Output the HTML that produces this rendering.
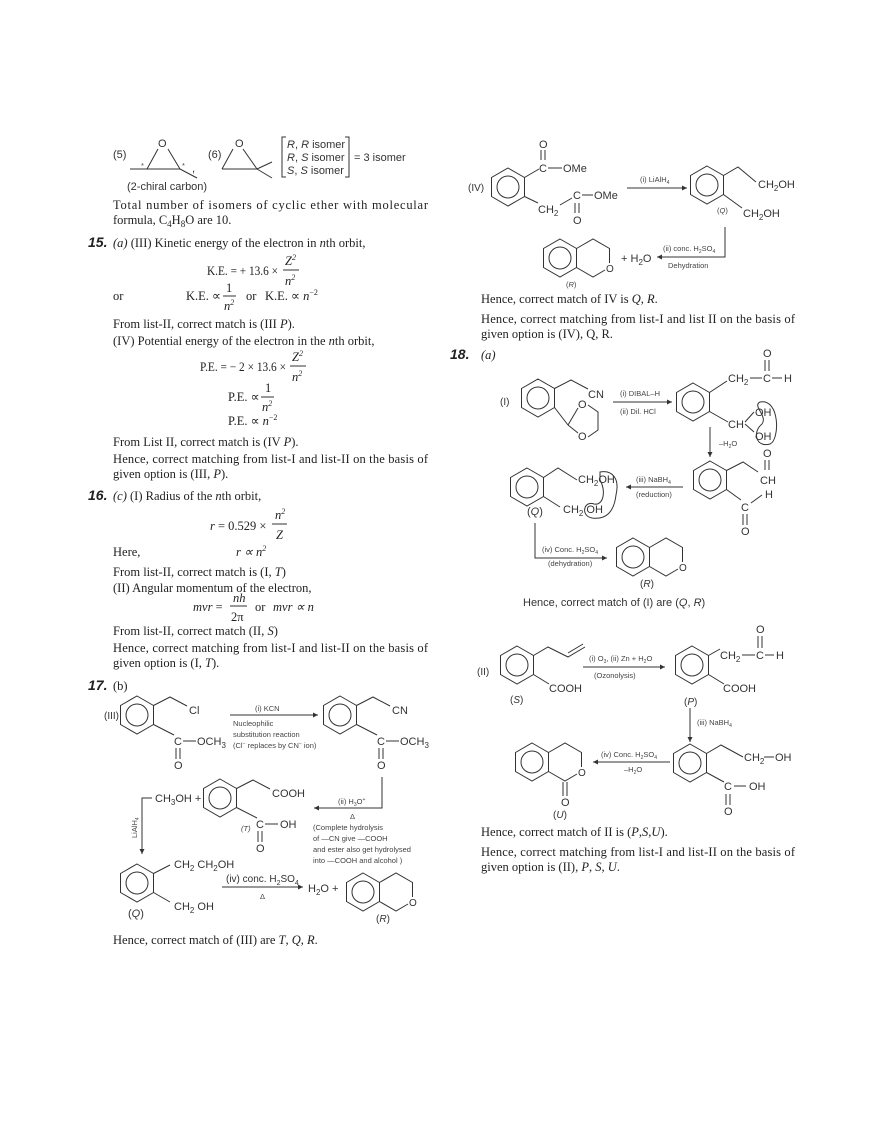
<!DOCTYPE html>
<html><head><meta charset="utf-8"><style>
html,body{margin:0;padding:0;background:#fff}
svg{display:block}
.t{font-family:"Liberation Serif",serif;font-size:12.5px;fill:#222}
.s{font-family:"Liberation Sans",sans-serif;font-size:11px;fill:#333}
.m{font-family:"Liberation Sans",sans-serif;font-size:7.5px;fill:#444}
.b{font-family:"Liberation Sans",sans-serif;font-size:14px;font-weight:bold;font-style:italic;fill:#222}
.ln{stroke:#333;stroke-width:1;fill:none}
</style></head><body>
<svg width="880" height="1124" viewBox="0 0 880 1124" xmlns="http://www.w3.org/2000/svg">
<defs>
<marker id="ar" markerWidth="6" markerHeight="6" refX="5" refY="3" orient="auto"><path d="M0,0.5 L5,3 L0,5.5 Z" fill="#333"/></marker>
<g id="bz"><polygon points="0,-19 16.5,-9.5 16.5,9.5 0,19 -16.5,9.5 -16.5,-9.5" class="ln"/><circle r="11" class="ln"/></g>
<g id="iso"><use href="#bz"/><polyline points="16.5,-9.5 33,-19 49.5,-9.5 49.5,5" class="ln"/><polyline points="45,12 33,19 16.5,9.5" class="ln"/><text x="46" y="14" class="s" style="font-size:10px">O</text></g>
</defs>

<!-- top left epoxides -->
<text x="113" y="158" class="s">(5)</text>
<text x="158" y="147" class="s">O</text>
<polyline points="147,169 158,149" class="ln"/><polyline points="168,149 180,169" class="ln"/>
<line x1="130" y1="169" x2="180" y2="169" class="ln"/><line x1="180" y1="169" x2="197" y2="178" class="ln"/>
<text x="141" y="168" class="m">*</text><text x="182" y="168" class="m">*</text>
<text x="192" y="172" class="s">,</text>
<text x="208" y="158" class="s">(6)</text>
<text x="235" y="147" class="s">O</text>
<polyline points="222,169 233,149" class="ln"/><polyline points="243,149 257,169" class="ln"/>
<line x1="222" y1="169" x2="257" y2="169" class="ln"/><line x1="257" y1="169" x2="272" y2="162" class="ln"/><line x1="257" y1="169" x2="272" y2="178" class="ln"/>
<polyline points="286,137 282,137 282,177 286,177" class="ln"/>
<polyline points="345,137 349,137 349,177 345,177" class="ln"/>
<text x="287" y="148" class="s"><tspan font-style="italic">R</tspan>, <tspan font-style="italic">R</tspan>  isomer</text>
<text x="287" y="161" class="s"><tspan font-style="italic">R</tspan>, <tspan font-style="italic">S</tspan>  isomer</text>
<text x="287" y="174" class="s"><tspan font-style="italic">S</tspan>, <tspan font-style="italic">S</tspan>  isomer</text>
<text x="354" y="161" class="s">= 3 isomer</text>
<text x="127" y="190" class="s">(2-chiral carbon)</text>
<text x="113" y="209" class="t" textLength="315">Total number of isomers of cyclic ether with molecular</text>
<text x="113" y="224" class="t">formula, C<tspan font-size="9" dy="3">4</tspan><tspan dy="-3">H</tspan><tspan font-size="9" dy="3">8</tspan><tspan dy="-3">O are 10.</tspan></text>

<!-- 15 -->
<text x="88" y="247" class="b">15.</text>
<text x="113" y="247" class="t"><tspan font-style="italic">(a)</tspan> (III) Kinetic energy of the electron in <tspan font-style="italic">n</tspan>th orbit,</text>
<text x="207" y="275" class="t" textLength="71" lengthAdjust="spacingAndGlyphs">K.E. = + 13.6 ×</text>
<text x="285" y="265" class="t" font-style="italic">Z<tspan font-size="8" dy="-5">2</tspan></text><line x1="283" y1="270" x2="299" y2="270" class="ln"/>
<text x="285" y="285" class="t" font-style="italic">n<tspan font-size="8" dy="-5">2</tspan></text>
<text x="113" y="300" class="t">or</text>
<text x="186" y="300" class="t">K.E. ∝</text>
<text x="226" y="292" class="t">1</text><line x1="223" y1="296" x2="236" y2="296" class="ln"/>
<text x="224" y="310" class="t" font-style="italic">n<tspan font-size="8" dy="-5">2</tspan></text>
<text x="246" y="300" class="t">or</text>
<text x="265" y="300" class="t">K.E. ∝ <tspan font-style="italic">n</tspan><tspan font-size="8" dy="-5">−2</tspan></text>
<text x="113" y="328" class="t">From list-II, correct match is (III <tspan font-style="italic">P</tspan>).</text>
<text x="113" y="345" class="t">(IV) Potential energy of the electron in the <tspan font-style="italic">n</tspan>th orbit,</text>
<text x="200" y="371" class="t" textLength="86" lengthAdjust="spacingAndGlyphs">P.E. = − 2 × 13.6 ×</text>
<text x="292" y="361" class="t" font-style="italic">Z<tspan font-size="8" dy="-5">2</tspan></text><line x1="290" y1="366" x2="306" y2="366" class="ln"/>
<text x="292" y="381" class="t" font-style="italic">n<tspan font-size="8" dy="-5">2</tspan></text>
<text x="228" y="401" class="t">P.E. ∝</text>
<text x="265" y="392" class="t">1</text><line x1="261" y1="397" x2="274" y2="397" class="ln"/>
<text x="262" y="411" class="t" font-style="italic">n<tspan font-size="8" dy="-5">2</tspan></text>
<text x="228" y="425" class="t">P.E. ∝ <tspan font-style="italic">n</tspan><tspan font-size="8" dy="-5">−2</tspan></text>
<text x="113" y="446" class="t">From List II, correct match is (IV <tspan font-style="italic">P</tspan>).</text>
<text x="113" y="463" class="t" textLength="315">Hence, correct matching from list-I and list-II on the basis of</text>
<text x="113" y="478" class="t">given option is (III, <tspan font-style="italic">P</tspan>).</text>

<!-- 16 -->
<text x="88" y="500" class="b">16.</text>
<text x="113" y="500" class="t"><tspan font-style="italic">(c)</tspan> (I) Radius of the <tspan font-style="italic">n</tspan>th orbit,</text>
<text x="210" y="530" class="t"><tspan font-style="italic">r</tspan> = 0.529 ×</text>
<text x="275" y="519" class="t" font-style="italic">n<tspan font-size="8" dy="-5">2</tspan></text><line x1="272" y1="524" x2="287" y2="524" class="ln"/>
<text x="276" y="539" class="t" font-style="italic">Z</text>
<text x="113" y="556" class="t">Here,</text>
<text x="236" y="556" class="t" font-style="italic">r ∝ n<tspan font-size="8" dy="-5">2</tspan></text>
<text x="113" y="576" class="t">From list-II, correct match is (I, <tspan font-style="italic">T</tspan>)</text>
<text x="113" y="592" class="t">(II) Angular momentum of the electron,</text>
<text x="193" y="611" class="t"><tspan font-style="italic">mvr</tspan> =</text>
<text x="233" y="602" class="t" font-style="italic">nh</text><line x1="230" y1="606" x2="247" y2="606" class="ln"/>
<text x="231" y="621" class="t">2π</text>
<text x="255" y="611" class="t">or</text>
<text x="273" y="611" class="t" font-style="italic">mvr ∝ n</text>
<text x="113" y="635" class="t">From list-II, correct match (II, <tspan font-style="italic">S</tspan>)</text>
<text x="113" y="652" class="t" textLength="315">Hence, correct matching from list-I and list-II on the basis of</text>
<text x="113" y="667" class="t">given option is (I, <tspan font-style="italic">T</tspan>).</text>

<!-- 17 -->
<text x="88" y="690" class="b">17.</text>
<text x="113" y="690" class="t">(b)</text>
<text x="104" y="719" class="s" style="font-size:10px">(III)</text>
<use href="#bz" x="137" y="715"/>
<polyline points="153.5,705.5 170,697 187,706" class="ln"/><text x="189" y="714" class="s">Cl</text>
<line x1="153.5" y1="724.5" x2="174" y2="735" class="ln"/>
<text x="174" y="745" class="s">C</text><line x1="183" y1="741" x2="196" y2="741" class="ln"/><text x="197" y="745" class="s">OCH<tspan font-size="8" dy="3">3</tspan></text>
<line x1="176" y1="748" x2="176" y2="759" class="ln"/><line x1="180" y1="748" x2="180" y2="759" class="ln"/><text x="174" y="769" class="s">O</text>
<line x1="230" y1="715" x2="318" y2="715" class="ln" marker-end="url(#ar)"/>
<text x="255" y="711" class="m">(i) KCN</text>
<text x="233" y="726" class="m">Nucleophilic</text>
<text x="233" y="737" class="m">substitution reaction</text>
<text x="233" y="748" class="m">(Cl<tspan font-size="5" dy="-3">−</tspan><tspan dy="3"> replaces by CN</tspan><tspan font-size="5" dy="-3">−</tspan><tspan dy="3"> ion)</tspan></text>
<use href="#bz" x="340" y="715"/>
<polyline points="356.5,705.5 373,697 390,706" class="ln"/><text x="392" y="714" class="s">CN</text>
<line x1="356.5" y1="724.5" x2="377" y2="735" class="ln"/>
<text x="377" y="745" class="s">C</text><line x1="386" y1="741" x2="399" y2="741" class="ln"/><text x="400" y="745" class="s">OCH<tspan font-size="8" dy="3">3</tspan></text>
<line x1="379" y1="748" x2="379" y2="759" class="ln"/><line x1="383" y1="748" x2="383" y2="759" class="ln"/><text x="377" y="769" class="s">O</text>
<polyline points="382,777 382,808 314,808" class="ln" marker-end="url(#ar)"/>
<text x="338" y="804" class="m">(ii) H<tspan font-size="5" dy="2">3</tspan><tspan dy="-2">O</tspan><tspan font-size="5" dy="-3">+</tspan></text>
<text x="350" y="819" class="m">Δ</text>
<text x="313" y="830" class="m">(Complete hydrolysis</text>
<text x="313" y="841" class="m">of —CN give —COOH</text>
<text x="313" y="852" class="m">and ester also get hydrolysed</text>
<text x="313" y="863" class="m">into —COOH and alcohol )</text>
<polyline points="152,798 142,798 142,854" class="ln" marker-end="url(#ar)"/>
<text x="155" y="802" class="s">CH<tspan font-size="8" dy="3">3</tspan><tspan dy="-3">OH +</tspan></text>
<text x="0" y="0" class="m" transform="translate(137,838) rotate(-90)">LiAlH<tspan font-size="5" dy="2">4</tspan></text>
<use href="#bz" x="220" y="798"/>
<polyline points="236.5,788.5 253,780 270,789" class="ln"/><text x="272" y="797" class="s">COOH</text>
<line x1="236.5" y1="807.5" x2="257" y2="818" class="ln"/>
<text x="256" y="828" class="s">C</text><line x1="265" y1="824" x2="278" y2="824" class="ln"/><text x="280" y="828" class="s">OH</text>
<line x1="258" y1="831" x2="258" y2="842" class="ln"/><line x1="262" y1="831" x2="262" y2="842" class="ln"/><text x="256" y="852" class="s">O</text>
<text x="241" y="831" class="m" font-style="italic">(T)</text>
<use href="#bz" x="137" y="883"/>
<line x1="153.5" y1="873.5" x2="170" y2="865" class="ln"/><text x="174" y="868" class="s">CH<tspan font-size="8" dy="3">2</tspan><tspan dy="-3"> CH</tspan><tspan font-size="8" dy="3">2</tspan><tspan dy="-3">OH</tspan></text>
<line x1="153.5" y1="892.5" x2="170" y2="902" class="ln"/><text x="174" y="910" class="s">CH<tspan font-size="8" dy="3">2</tspan><tspan dy="-3"> OH</tspan></text>
<text x="128" y="917" class="s">(<tspan font-style="italic">Q</tspan>)</text>
<line x1="222" y1="887" x2="303" y2="887" class="ln" marker-end="url(#ar)"/>
<text x="226" y="882" class="s" style="font-size:10px">(iv) conc. H<tspan font-size="7" dy="3">2</tspan><tspan dy="-3">SO</tspan><tspan font-size="7" dy="3">4</tspan></text>
<text x="260" y="899" class="m">Δ</text>
<text x="308" y="892" class="s">H<tspan font-size="8" dy="3">2</tspan><tspan dy="-3">O +</tspan></text>
<use href="#iso" x="363" y="892"/>
<text x="376" y="922" class="s" style="font-size:10px">(<tspan font-style="italic">R</tspan>)</text>
<text x="113" y="944" class="t">Hence, correct match of (III) are <tspan font-style="italic">T</tspan>, <tspan font-style="italic">Q</tspan>, <tspan font-style="italic">R</tspan>.</text>

<!-- right IV -->
<text x="468" y="191" class="s" style="font-size:10px">(IV)</text>
<use href="#bz" x="508" y="187"/>
<line x1="524.5" y1="177.5" x2="539" y2="169" class="ln"/>
<text x="539" y="172" class="s">C</text><line x1="548" y1="168" x2="562" y2="168" class="ln"/><text x="563" y="172" class="s">OMe</text>
<line x1="541" y1="160" x2="541" y2="150" class="ln"/><line x1="545" y1="160" x2="545" y2="150" class="ln"/><text x="539" y="148" class="s">O</text>
<line x1="524.5" y1="196.5" x2="538" y2="203" class="ln"/><text x="538" y="213" class="s">CH<tspan font-size="8" dy="3">2</tspan></text>
<line x1="560" y1="205" x2="572" y2="198" class="ln"/>
<text x="573" y="199" class="s">C</text><line x1="582" y1="195" x2="593" y2="195" class="ln"/><text x="594" y="199" class="s">OMe</text>
<line x1="575" y1="203" x2="575" y2="213" class="ln"/><line x1="579" y1="203" x2="579" y2="213" class="ln"/><text x="573" y="224" class="s">O</text>
<line x1="627" y1="188" x2="687" y2="188" class="ln" marker-end="url(#ar)"/>
<text x="640" y="182" class="m">(i) LiAlH<tspan font-size="5" dy="2">4</tspan></text>
<use href="#bz" x="707" y="185"/>
<polyline points="723.5,175.5 738,167 756,182" class="ln"/><text x="758" y="188" class="s">CH<tspan font-size="8" dy="3">2</tspan><tspan dy="-3">OH</tspan></text>
<line x1="723.5" y1="194.5" x2="742" y2="208" class="ln"/><text x="743" y="217" class="s">CH<tspan font-size="8" dy="3">2</tspan><tspan dy="-3">OH</tspan></text>
<text x="717" y="213" class="m">(<tspan font-style="italic">Q</tspan>)</text>
<polyline points="725,227 725,257 657,257" class="ln" marker-end="url(#ar)"/>
<text x="663" y="251" class="m">(ii) conc. H<tspan font-size="5" dy="2">2</tspan><tspan dy="-2">SO</tspan><tspan font-size="5" dy="2">4</tspan></text>
<text x="668" y="268" class="m">Dehydration</text>
<text x="621" y="262" class="s">+ H<tspan font-size="8" dy="3">2</tspan><tspan dy="-3">O</tspan></text>
<use href="#iso" x="560" y="258"/>
<text x="566" y="287" class="m">(<tspan font-style="italic">R</tspan>)</text>
<text x="481" y="303" class="t">Hence, correct match of IV is <tspan font-style="italic">Q</tspan>, <tspan font-style="italic">R</tspan>.</text>
<text x="481" y="323" class="t" textLength="314">Hence, correct matching from list-I and list II on the basis of</text>
<text x="481" y="338" class="t">given option is (IV), Q, R.</text>

<!-- 18 -->
<text x="450" y="359" class="b">18.</text>
<text x="481" y="359" class="t" font-style="italic">(a)</text>
<text x="500" y="405" class="s" style="font-size:10px">(I)</text>
<use href="#bz" x="538" y="398"/>
<polyline points="554.5,388.5 571,380 588,389" class="ln"/><text x="588" y="398" class="s">CN</text>
<line x1="554.5" y1="407.5" x2="568" y2="425" class="ln"/>
<line x1="568" y1="425" x2="578" y2="408" class="ln"/><line x1="568" y1="425" x2="578" y2="433" class="ln"/>
<text x="578" y="408" class="s">O</text><text x="578" y="440" class="s">O</text>
<polyline points="588,405 598,412 598,430 588,437" class="ln"/>
<line x1="613" y1="402" x2="672" y2="402" class="ln" marker-end="url(#ar)"/>
<text x="620" y="396" class="m">(i) DIBAL–H</text><text x="620" y="414" class="m">(ii) Dil. HCl</text>
<use href="#bz" x="693" y="402"/>
<line x1="709.5" y1="392.5" x2="727" y2="381" class="ln"/><text x="728" y="382" class="s">CH<tspan font-size="8" dy="3">2</tspan></text>
<line x1="750" y1="378" x2="762" y2="378" class="ln"/><text x="763" y="382" class="s">C</text><line x1="772" y1="378" x2="782" y2="378" class="ln"/><text x="784" y="382" class="s">H</text>
<line x1="765" y1="371" x2="765" y2="360" class="ln"/><line x1="769" y1="371" x2="769" y2="360" class="ln"/><text x="763" y="357" class="s">O</text>
<line x1="709.5" y1="411.5" x2="728" y2="422" class="ln"/><text x="728" y="428" class="s">CH</text>
<line x1="745" y1="422" x2="754" y2="412" class="ln"/><line x1="745" y1="424" x2="754" y2="432" class="ln"/>
<text x="755" y="416" class="s">OH</text><text x="755" y="440" class="s">OH</text>
<path d="M760,402 C780,398 780,440 770,444 C756,448 752,432 762,424 C768,416 752,406 760,402 Z" class="ln"/>
<line x1="710" y1="427" x2="710" y2="457" class="ln" marker-end="url(#ar)"/>
<text x="719" y="446" class="m">–H<tspan font-size="5" dy="2">2</tspan><tspan dy="-2">O</tspan></text>
<use href="#bz" x="710" y="480"/>
<polyline points="726.5,470.5 743,462 758,472" class="ln"/>
<text x="760" y="484" class="s">CH</text>
<line x1="765" y1="470" x2="765" y2="460" class="ln"/><line x1="769" y1="470" x2="769" y2="460" class="ln"/><text x="763" y="457" class="s">O</text>
<text x="765" y="498" class="s">H</text>
<line x1="726.5" y1="489.5" x2="741" y2="500" class="ln"/><text x="741" y="511" class="s">C</text><line x1="751" y1="503" x2="762" y2="495" class="ln"/>
<line x1="743" y1="514" x2="743" y2="525" class="ln"/><line x1="747" y1="514" x2="747" y2="525" class="ln"/><text x="741" y="535" class="s">O</text>
<line x1="683" y1="487" x2="626" y2="487" class="ln" marker-end="url(#ar)"/>
<text x="636" y="482" class="m">(iii) NaBH<tspan font-size="5" dy="2">4</tspan></text><text x="636" y="497" class="m">(reduction)</text>
<use href="#bz" x="527" y="487"/>
<polyline points="543.5,477.5 558,468 577,480" class="ln"/><text x="578" y="483" class="s">CH<tspan font-size="8" dy="3">2</tspan><tspan dy="-3">OH</tspan></text>
<line x1="543.5" y1="496.5" x2="560" y2="507" class="ln"/><text x="563" y="513" class="s">CH<tspan font-size="8" dy="3">2</tspan><tspan dy="-3"> OH</tspan></text>
<path d="M600,472 C612,470 620,478 616,495 C614,512 606,520 592,518 C580,516 584,500 594,504 C604,506 606,490 600,480 Z" class="ln"/>
<text x="527" y="515" class="s">(<tspan font-style="italic">Q</tspan>)</text>
<polyline points="535,523 535,558 607,558" class="ln" marker-end="url(#ar)"/>
<text x="542" y="552" class="m">(iv) Conc. H<tspan font-size="5" dy="2">2</tspan><tspan dy="-2">SO</tspan><tspan font-size="5" dy="2">4</tspan></text>
<text x="548" y="566" class="m">(dehydration)</text>
<use href="#iso" x="633" y="557"/>
<text x="640" y="587" class="s" style="font-size:10px">(<tspan font-style="italic">R</tspan>)</text>
<text x="523" y="606" class="s">Hence, correct match of (I) are (<tspan font-style="italic">Q</tspan>, <tspan font-style="italic">R</tspan>)</text>

<!-- II -->
<text x="477" y="675" class="s" style="font-size:10px">(II)</text>
<use href="#bz" x="517" y="665"/>
<polyline points="533.5,655.5 548,647 568,657 585,647" class="ln"/><line x1="568" y1="653" x2="583" y2="644" class="ln"/>
<line x1="533.5" y1="674.5" x2="549" y2="684" class="ln"/><text x="549" y="692" class="s">COOH</text>
<text x="510" y="703" class="s" style="font-size:10px">(<tspan font-style="italic">S</tspan>)</text>
<line x1="583" y1="667" x2="665" y2="667" class="ln" marker-end="url(#ar)"/>
<text x="589" y="661" class="m">(i) O<tspan font-size="5" dy="2">3</tspan><tspan dy="-2">, (ii) Zn + H</tspan><tspan font-size="5" dy="2">2</tspan><tspan dy="-2">O</tspan></text>
<text x="594" y="678" class="m">(Ozonolysis)</text>
<use href="#bz" x="692" y="665"/>
<line x1="708.5" y1="655.5" x2="720" y2="649" class="ln"/><text x="720" y="659" class="s">CH<tspan font-size="8" dy="3">2</tspan></text>
<line x1="742" y1="655" x2="755" y2="655" class="ln"/><text x="756" y="659" class="s">C</text><line x1="765" y1="655" x2="774" y2="655" class="ln"/><text x="776" y="659" class="s">H</text>
<line x1="758" y1="648" x2="758" y2="636" class="ln"/><line x1="762" y1="648" x2="762" y2="636" class="ln"/><text x="756" y="633" class="s">O</text>
<line x1="708.5" y1="674.5" x2="724" y2="684" class="ln"/><text x="723" y="692" class="s">COOH</text>
<text x="684" y="705" class="s" style="font-size:10px">(<tspan font-style="italic">P</tspan>)</text>
<line x1="690" y1="708" x2="690" y2="742" class="ln" marker-end="url(#ar)"/>
<text x="697" y="725" class="m">(iii) NaBH<tspan font-size="5" dy="2">4</tspan></text>
<use href="#bz" x="690" y="763"/>
<polyline points="706.5,753.5 721,745 743,757" class="ln"/><text x="744" y="761" class="s">CH<tspan font-size="8" dy="3">2</tspan></text>
<line x1="764" y1="757" x2="774" y2="757" class="ln"/><text x="775" y="761" class="s">OH</text>
<line x1="706.5" y1="772.5" x2="724" y2="782" class="ln"/><text x="724" y="790" class="s">C</text>
<line x1="734" y1="786" x2="746" y2="786" class="ln"/><text x="749" y="790" class="s">OH</text>
<line x1="726" y1="794" x2="726" y2="805" class="ln"/><line x1="730" y1="794" x2="730" y2="805" class="ln"/><text x="724" y="815" class="s">O</text>
<line x1="670" y1="762" x2="593" y2="762" class="ln" marker-end="url(#ar)"/>
<text x="601" y="757" class="m">(iv) Conc. H<tspan font-size="5" dy="2">2</tspan><tspan dy="-2">SO</tspan><tspan font-size="5" dy="2">4</tspan></text>
<text x="624" y="772" class="m">–H<tspan font-size="5" dy="2">2</tspan><tspan dy="-2">O</tspan></text>
<use href="#bz" x="532" y="762"/>
<polyline points="548.5,752.5 565,743 581.5,752.5 581.5,767" class="ln"/>
<text x="578" y="776" class="s" style="font-size:10px">O</text>
<polyline points="577,774 565,781 548.5,771.5" class="ln"/>
<line x1="563" y1="782" x2="563" y2="796" class="ln"/><line x1="567" y1="782" x2="567" y2="796" class="ln"/><text x="561" y="806" class="s">O</text>
<text x="553" y="818" class="s" style="font-size:10px">(<tspan font-style="italic">U</tspan>)</text>
<text x="481" y="836" class="t">Hence, correct match of II is (<tspan font-style="italic">P</tspan>,<tspan font-style="italic">S</tspan>,<tspan font-style="italic">U</tspan>).</text>
<text x="481" y="856" class="t" textLength="314">Hence, correct matching from list-I and list-II on the basis of</text>
<text x="481" y="871" class="t">given option is (II), <tspan font-style="italic">P</tspan>, <tspan font-style="italic">S</tspan>, <tspan font-style="italic">U</tspan>.</text>
</svg>
</body></html>
